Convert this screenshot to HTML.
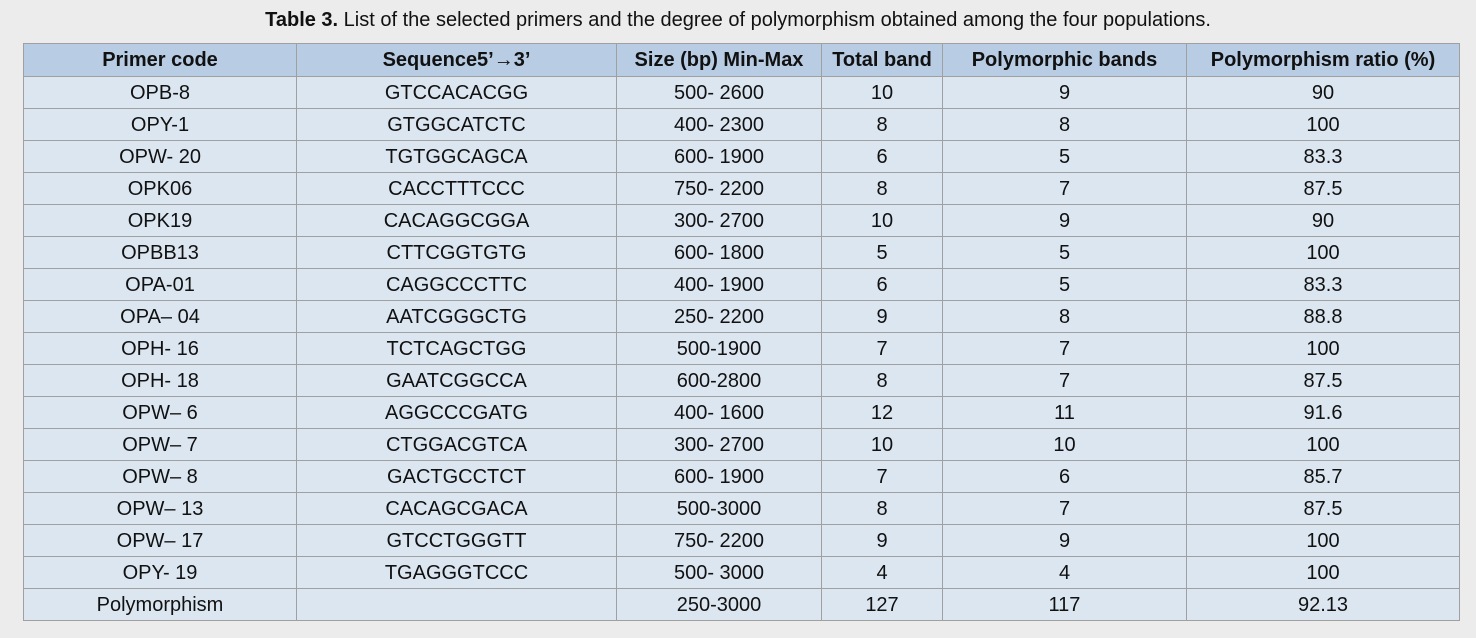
<!DOCTYPE html>
<html><head><style>
body{margin:0;background:#ececec;width:1476px;height:638px;overflow:hidden;font-family:"Liberation Sans",sans-serif;}
.t{position:absolute;top:9px;left:0;width:1476px;text-align:center;font-size:20px;color:#111;}
table{position:absolute;left:23px;top:43px;border-collapse:collapse;table-layout:fixed;}
td,th{border:1.5px solid #a0a0a0;text-align:center;font-size:20px;color:#111;padding:2px 0 0 0;height:29px;background:#dce6f1;white-space:nowrap;}
th{background:#b8cce4;height:29.5px;font-weight:bold;}
</style></head><body>
<div class="t"><b>Table 3.</b> List of the selected primers and the degree of polymorphism obtained among the four populations.</div>
<table>
<colgroup><col style="width:273px"><col style="width:320px"><col style="width:205px"><col style="width:121px"><col style="width:244px"><col style="width:273px"></colgroup>
<tr><th>Primer code</th><th>Sequence5’→3’</th><th>Size (bp) Min-Max</th><th>Total band</th><th>Polymorphic bands</th><th>Polymorphism ratio (%)</th></tr>
<tr><td>OPB-8</td><td>GTCCACACGG</td><td>500- 2600</td><td>10</td><td>9</td><td>90</td></tr>
<tr><td>OPY-1</td><td>GTGGCATCTC</td><td>400- 2300</td><td>8</td><td>8</td><td>100</td></tr>
<tr><td>OPW- 20</td><td>TGTGGCAGCA</td><td>600- 1900</td><td>6</td><td>5</td><td>83.3</td></tr>
<tr><td>OPK06</td><td>CACCTTTCCC</td><td>750- 2200</td><td>8</td><td>7</td><td>87.5</td></tr>
<tr><td>OPK19</td><td>CACAGGCGGA</td><td>300- 2700</td><td>10</td><td>9</td><td>90</td></tr>
<tr><td>OPBB13</td><td>CTTCGGTGTG</td><td>600- 1800</td><td>5</td><td>5</td><td>100</td></tr>
<tr><td>OPA-01</td><td>CAGGCCCTTC</td><td>400- 1900</td><td>6</td><td>5</td><td>83.3</td></tr>
<tr><td>OPA– 04</td><td>AATCGGGCTG</td><td>250- 2200</td><td>9</td><td>8</td><td>88.8</td></tr>
<tr><td>OPH- 16</td><td>TCTCAGCTGG</td><td>500-1900</td><td>7</td><td>7</td><td>100</td></tr>
<tr><td>OPH- 18</td><td>GAATCGGCCA</td><td>600-2800</td><td>8</td><td>7</td><td>87.5</td></tr>
<tr><td>OPW– 6</td><td>AGGCCCGATG</td><td>400- 1600</td><td>12</td><td>11</td><td>91.6</td></tr>
<tr><td>OPW– 7</td><td>CTGGACGTCA</td><td>300- 2700</td><td>10</td><td>10</td><td>100</td></tr>
<tr><td>OPW– 8</td><td>GACTGCCTCT</td><td>600- 1900</td><td>7</td><td>6</td><td>85.7</td></tr>
<tr><td>OPW– 13</td><td>CACAGCGACA</td><td>500-3000</td><td>8</td><td>7</td><td>87.5</td></tr>
<tr><td>OPW– 17</td><td>GTCCTGGGTT</td><td>750- 2200</td><td>9</td><td>9</td><td>100</td></tr>
<tr><td>OPY- 19</td><td>TGAGGGTCCC</td><td>500- 3000</td><td>4</td><td>4</td><td>100</td></tr>
<tr><td>Polymorphism</td><td></td><td>250-3000</td><td>127</td><td>117</td><td>92.13</td></tr>
</table>
</body></html>
